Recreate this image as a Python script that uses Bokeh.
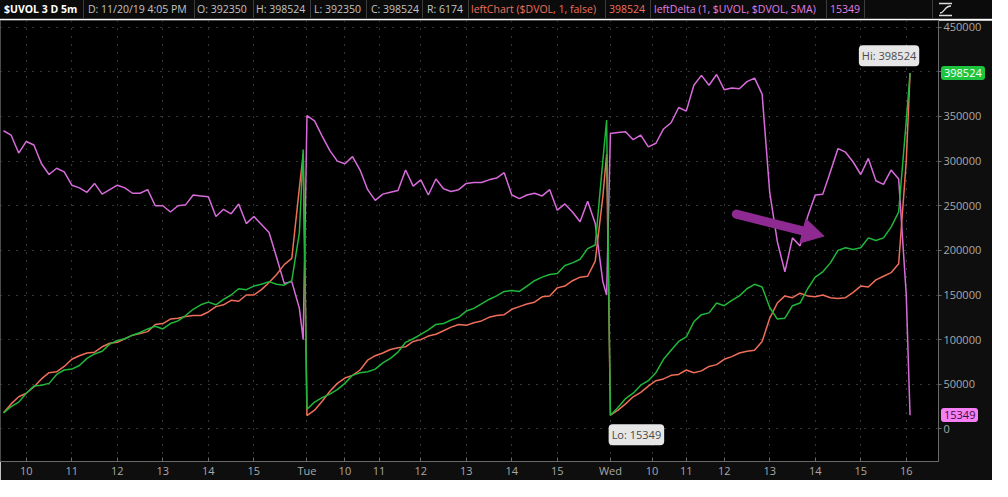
from bokeh.plotting import figure
from bokeh.models import Range1d, FixedTicker, NumeralTickFormatter, Label, Arrow, Div
from bokeh.layouts import column
from bokeh.embed import file_html
from bokeh.resources import INLINE

# ---- data (values in thousands, one point every 2 bars of 5 min + last bar) ----
day_labels = ["Mon", "Tue", "Wed"]
bars_per_day = 80
bar_offsets = list(range(0, 80, 2)) + [79]

green_mon = [18, 25, 30, 40, 48, 49, 51, 61, 66, 67, 71, 79, 84, 87, 95, 99, 101, 105, 108, 112,
             115, 112, 118, 121, 127, 134, 139, 142, 139, 145, 150, 157, 156, 160, 162, 165, 162, 161, 166, 220, 313]
green_tue = [22, 30, 35, 39, 44, 51, 60, 63, 64, 67, 74, 79, 86, 97, 101, 106, 111, 117, 118, 122,
             125, 132, 135, 140, 145, 149, 154, 155, 154, 160, 166, 170, 173, 174, 183, 186, 190, 202, 206, 300, 346]
green_wed = [15.349, 24, 34, 40, 49, 54, 63, 78, 88, 98, 103, 120, 128, 130, 141, 138, 144, 149, 157, 162,
             159, 136, 123, 124, 138, 141, 157, 170, 176, 186, 200, 203, 201, 203, 214, 211, 214, 226, 243, 345, 398.524]

red_mon = [18, 28, 36, 40, 47, 56, 63, 64, 70, 78, 82, 85, 86, 92, 96, 97, 101, 105, 107, 109,
           117, 118, 123, 124, 126, 127, 127, 131, 137, 139, 144, 143, 150, 150, 156, 164, 173, 184, 191, 270, 308]
red_tue = [15, 21, 31, 42, 51, 57, 60, 66, 77, 82, 85, 89, 91, 92, 98, 100, 104, 106, 110, 114,
           117, 116, 119, 121, 125, 127, 128, 134, 137, 140, 142, 148, 149, 158, 160, 166, 170, 171, 188, 260, 308]
red_wed = [15.349, 21, 28, 36, 41, 48, 54, 56, 60, 61, 66, 63, 65, 70, 72, 78, 81, 85, 87, 88,
           98, 124, 141, 149, 147, 152, 149, 148, 150, 147, 146, 147, 153, 160, 159, 167, 171, 175, 185, 300, 398.524]

pink_mon = [334, 329, 309, 322, 318, 297, 285, 292, 288, 273, 270, 265, 275, 263, 268, 273, 270, 264, 264, 268,
            250, 250, 243, 250, 251, 262, 261, 260, 238, 246, 241, 252, 230, 238, 229, 220, 192, 163, 165, 135, 100]
pink_tue = [351, 345, 328, 312, 300, 297, 305, 290, 268, 256, 263, 265, 267, 290, 272, 279, 262, 280, 269, 266,
            268, 275, 276, 276, 279, 281, 287, 262, 258, 262, 264, 261, 268, 245, 252, 243, 232, 255, 230, 165, 150]
pink_wed = [331, 332, 333, 324, 329, 316, 320, 336, 343, 360, 356, 385, 396, 385, 397, 380, 382, 381, 389, 393,
            375, 265, 210, 176, 214, 205, 238, 262, 263, 288, 314, 310, 299, 285, 303, 278, 274, 290, 280, 150, 15.349]

tick_bars = [6, 18, 30, 42, 54, 66, 80, 90, 99, 110, 122, 134, 146, 160, 171, 180, 190, 202, 214, 226, 238]
tick_labels = ["10", "11", "12", "13", "14", "15", "Tue", "10", "11", "12", "13", "14", "15",
               "Wed", "10", "11", "12", "13", "14", "15", "16"]
y_ticks = [0, 50000, 100000, 150000, 200000, 250000, 300000, 350000, 400000, 450000]

last_value = 398524
delta_last = 15349
low_value = 15349

x = []
for d in range(len(day_labels)):
    x += [d * bars_per_day + b for b in bar_offsets]
green = [round(v * 1000) for v in green_mon + green_tue + green_wed]
red = [round(v * 1000) for v in red_mon + red_tue + red_wed]
pink = [round(v * 1000) for v in pink_mon + pink_tue + pink_wed]

FONT = "Open Sans"
GREEN = "#1fb83a"
RED = "#ee6e5a"
PINK = "#d86bdb"
PURPLE = "#8e2a92"

HEADER_H = 20
FRAME_W = 938
FRAME_H = 441
Y0, Y1 = -36500, 457500
X0, X1 = -0.8, 246.5

p = figure(frame_width=FRAME_W, frame_height=FRAME_H, x_range=Range1d(X0, X1), y_range=Range1d(Y0, Y1),
           output_backend="svg", toolbar_location=None, y_axis_location="right",
           min_border_left=0, min_border_right=54, min_border_top=0, min_border_bottom=17,
           background_fill_color="#000000", border_fill_color="#0e0e0e",
           outline_line_color="#4a4a4a", margin=(0, 0, 0, 0))

p.line(x, pink, line_color=PINK, line_width=1.5)
p.line(x, red, line_color=RED, line_width=1.5)
p.line(x, green, line_color=GREEN, line_width=1.5)

# axes
p.xaxis.ticker = FixedTicker(ticks=tick_bars)
p.xaxis.major_label_overrides = {t: l for t, l in zip(tick_bars, tick_labels)}
p.yaxis.ticker = FixedTicker(ticks=y_ticks)
p.yaxis.formatter = NumeralTickFormatter(format="0")
for ax in (p.xaxis[0], p.yaxis[0]):
    ax.axis_line_color = "#6a6a6a"
    ax.major_tick_line_color = "#6a6a6a"
    ax.minor_tick_line_color = None
    ax.major_label_text_color = "#a9a9a9"
    ax.major_label_text_font = FONT
    ax.major_label_text_font_size = "11px"
p.xaxis.major_tick_in = 4
p.xaxis.major_tick_out = 0
p.xaxis.major_label_standoff = 1
p.yaxis.major_tick_in = 0
p.yaxis.major_tick_out = 3
p.yaxis.major_label_standoff = 2

for g in (p.xgrid[0], p.ygrid[0]):
    g.grid_line_color = "#6a6a6a"
    g.grid_line_dash = "1 7"
    g.grid_line_width = 1

# Hi / Lo callouts
hi_bar = x[-1]
lo_bar = 2 * bars_per_day
p.add_layout(Label(x=hi_bar, y=last_value, x_offset=-21, y_offset=7, anchor="bottom_center",
                   text="Hi: %d" % last_value, text_font=FONT, text_font_size="11px", text_color="#4a4a4a",
                   background_fill_color="#e6e6e6", padding=3, border_radius=4))
p.add_layout(Label(x=lo_bar, y=low_value, x_offset=26, y_offset=-9, anchor="top_center",
                   text="Lo: %d" % low_value, text_font=FONT, text_font_size="11px", text_color="#4a4a4a",
                   background_fill_color="#e6e6e6", padding=3, border_radius=4))

# purple annotation arrow: shaft + triangular head
p.add_layout(Arrow(end=None, x_start=193.2, y_start=240600, x_end=212.6, y_end=219900,
                   line_color=PURPLE, line_width=9, line_cap="round"))
p.scatter([212.6], [219900], marker="triangle", size=25, angle=-104, angle_units="deg",
          fill_color=PURPLE, line_color=PURPLE)


def value_to_page_y(v):
    return HEADER_H + (Y1 - v) / (Y1 - Y0) * FRAME_H


# header bar (with the price-axis value tags overlaid on the chart)
header_items = [
    ("$UVOL 3 D 5m", "#ffffff", True, 4),
    ("D: 11/20/19 4:05 PM", "#c4c4c4", False, 88),
    ("O: 392350", "#c4c4c4", False, 197),
    ("H: 398524", "#c4c4c4", False, 256),
    ("L: 392350", "#c4c4c4", False, 314),
    ("C: 398524", "#c4c4c4", False, 371),
    ("R: 6174", "#c4c4c4", False, 427),
    ("leftChart ($DVOL, 1, false)", "#f0705a", False, 471),
    ("398524", "#f0705a", False, 609),
    ("leftDelta (1, $UVOL, $DVOL, SMA)", "#e27fe6", False, 654),
    ("15349", "#e27fe6", False, 830),
]
separators = [83, 194, 253, 310, 366, 422, 468, 605, 650, 826, 864, 932]
html = ['<div style="position:relative;width:992px;height:19px;background:#0b0b0b;'
        'border-bottom:1px solid #3c3c3c;font-family:\'Open Sans\';font-size:10.5px;white-space:nowrap;">']
for text, col, bold, left in header_items:
    html.append('<span style="position:absolute;left:%dpx;top:2px;color:%s;%s">%s</span>'
                % (left, col, "font-weight:bold;" if bold else "", text))
for s in separators:
    html.append('<div style="position:absolute;left:%dpx;top:0;width:1px;height:19px;background:#3c3c3c"></div>' % s)
html.append('<svg style="position:absolute;left:938px;top:2px" width="15" height="15">'
            '<path d="M1 1.5H14M1 13.5H14" stroke="#dddddd" stroke-width="1.5"/>'
            '<path d="M2 11 C7 11 6 4 13 4" stroke="#dddddd" stroke-width="1.3" fill="none"/></svg>')
tags = [(last_value, "#1ec43e", "#ffffff"), (delta_last, "#f77ff5", "#3a1040")]
for val, bg, fg in tags:
    html.append('<span style="position:absolute;left:%dpx;top:%dpx;height:14px;line-height:14px;'
                'padding:0 3px;border-radius:3px;background:%s;color:%s;font-size:11px;">%d</span>'
                % (FRAME_W + 3, round(value_to_page_y(val) - 7), bg, fg, val))
html.append('</div>')
header = Div(text="".join(html), width=992, height=HEADER_H, margin=(0, 0, 0, 0),
             styles={"z-index": "10", "overflow": "visible", "position": "relative"})

layout = column(header, p, spacing=0, margin=(0, 0, 0, 0))
open("out.html", "w").write(file_html(layout, INLINE))
